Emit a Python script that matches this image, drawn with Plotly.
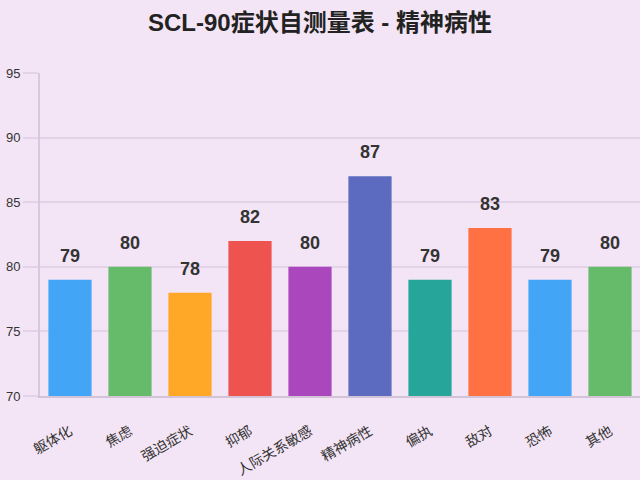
import plotly.graph_objects as go

categories = ["躯体化", "焦虑", "强迫症状", "抑郁", "人际关系敏感", "精神病性", "偏执", "敌对", "恐怖", "其他"]
scores = [79, 80, 78, 82, 80, 87, 79, 83, 79, 80]
colors = ["#42a5f5", "#66bb6a", "#ffa726", "#ef5350", "#ab47bc",
          "#5c6bc0", "#26a69a", "#ff7043", "#42a5f5", "#66bb6a"]

font_family = "Liberation Sans, Arial, Noto Sans CJK SC, sans-serif"

fig = go.Figure()
fig.add_trace(go.Bar(x=categories, y=scores, marker_color=colors,
                     marker_line_width=0, hoverinfo="x+y"))

# value labels above each bar
for c, s in zip(categories, scores):
    fig.add_annotation(x=c, y=s, text="<b>%d</b>" % s, showarrow=False,
                       yanchor="bottom", yshift=12,
                       font=dict(size=18, color="#333333", family=font_family))

fig.update_layout(
    title=dict(text="<b>SCL-90症状自测量表 - 精神病性</b>", x=0.5, xanchor="center",
               y=0.953, yanchor="middle",
               font=dict(size=24, color="#222222", family=font_family)),
    paper_bgcolor="#f3e5f5",
    plot_bgcolor="#f3e5f5",
    width=640, height=480,
    margin=dict(l=40, r=0, t=73, b=84),
    bargap=0.28,
    showlegend=False,
    font=dict(family=font_family, color="#333333"),
)
fig.update_yaxes(range=[70, 95], dtick=5, showgrid=True, gridcolor="#e3d3e8",
                 gridwidth=1.5, showline=True, linecolor="#d8c8dd", linewidth=2,
                 ticks="outside", ticklen=15, tickcolor="#e3d3e8", tickwidth=1.5,
                 tickfont=dict(size=13, color="#333333"), zeroline=False)
fig.update_xaxes(showline=True, linecolor="#d3c3d8", linewidth=2, tickangle=-30,
                 tickfont=dict(size=14, color="#333333"), ticks="",
                 ticklabelstandoff=20)

fig.write_html("out.html", config={"displayModeBar": False},
               post_script="document.body.style.margin='0';")
